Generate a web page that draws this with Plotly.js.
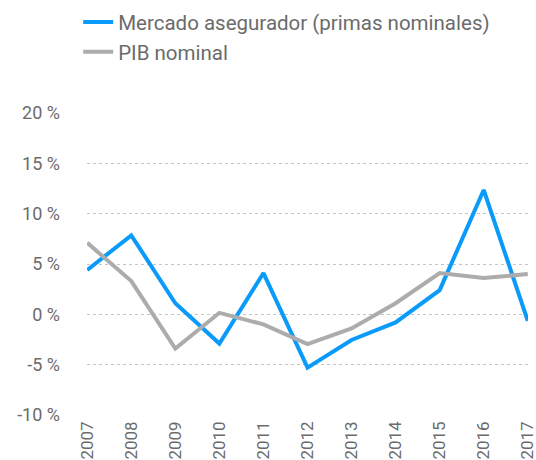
<!DOCTYPE html>
<html>
<head>
<meta charset="utf-8">
<script src="https://cdn.plot.ly/plotly-3.0.1.min.js"></script>
<style>html,body{margin:0;padding:0;background:#fff;}#chart{width:536px;height:460px;}</style>
</head>
<body>
<div id="chart"></div>
<script>
const years = [2007, 2008, 2009, 2010, 2011, 2012, 2013, 2014, 2015, 2016, 2017];
const mercadoName = "Mercado asegurador (primas nominales)";
const mercado = [4.4, 7.85, 1.1, -2.9, 4.1, -5.3, -2.55, -0.8, 2.4, 12.35, -0.65];
const pibName = "PIB nominal";
const pib = [7.1, 3.3, -3.4, 0.15, -1.0, -2.95, -1.4, 1.1, 4.1, 3.6, 4.0];
const yTicks = [-10, -5, 0, 5, 10, 15, 20];
const yTickText = ["-10 %", "-5 %", "0 %", "5 %", "10 %", "15 %", "20 %"];

const fontFamily = "Roboto, 'DejaVu Sans', sans-serif";
const textColor = "#6b6b6b";

const traces = [
  {x: years, y: mercado, name: mercadoName, type: "scatter", mode: "lines",
   line: {color: "#0a9bfa", width: 4}},
  {x: years, y: pib, name: pibName, type: "scatter", mode: "lines",
   line: {color: "#acacac", width: 4}}
];

const layout = {
  width: 536, height: 460,
  margin: {l: 87, r: 8, t: 113, b: 45, autoexpand: false},
  paper_bgcolor: "#fff", plot_bgcolor: "#fff",
  font: {family: fontFamily, color: textColor, size: 18},
  showlegend: true,
  legend: {x: -0.02, y: 1.367, xanchor: "left", yanchor: "top",
           font: {size: 20.5, color: textColor, family: fontFamily},
           bgcolor: "rgba(0,0,0,0)", tracegroupgap: 0},
  xaxis: {range: [2006.995, 2017.005], tickvals: years, ticktext: years.map(String),
          tickangle: -90, showgrid: false, zeroline: false, showline: false,
          automargin: false,
          ticks: "", ticklabeloverflow: "allow", ticklabelstandoff: 2,
          tickfont: {size: 17, color: textColor}, fixedrange: true},
  yaxis: {range: [-10, 20], tickvals: yTicks, ticktext: yTickText,
          showgrid: true, gridcolor: "#c4c4c4", griddash: "dot", gridwidth: 1,
          zeroline: false, showline: false, ticks: "", ticklabelstandoff: 26,
          automargin: false,
          tickfont: {size: 18, color: textColor}, fixedrange: true}
};

Plotly.newPlot("chart", traces, layout, {staticPlot: true});
</script>
</body>
</html>
